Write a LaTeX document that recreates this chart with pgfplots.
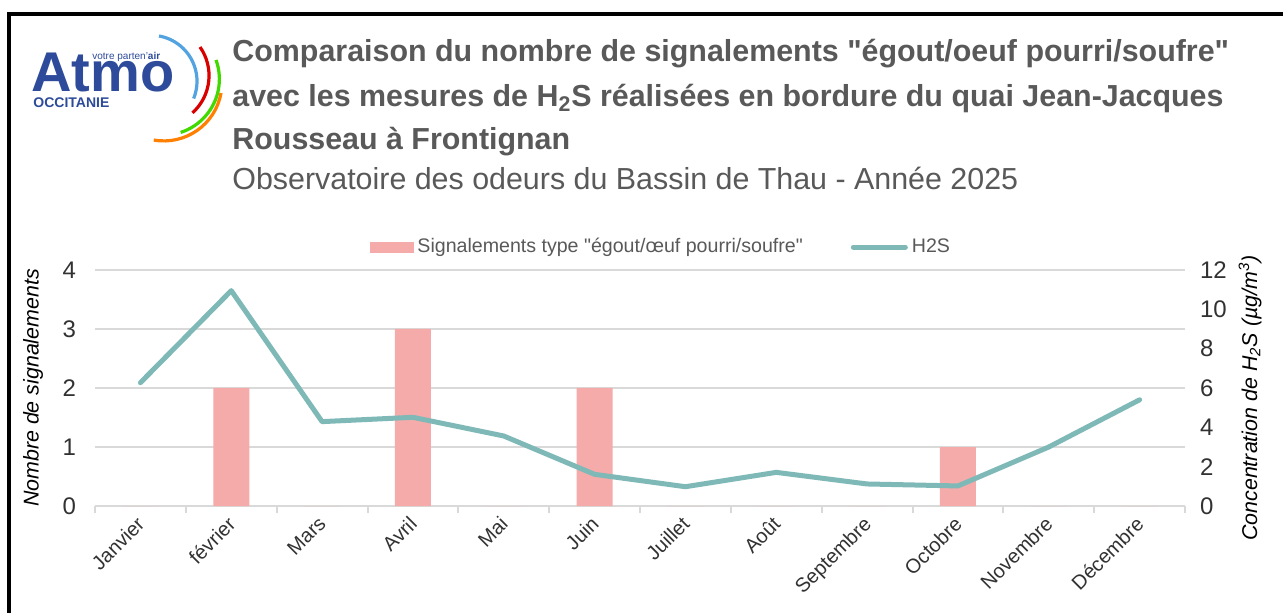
\documentclass[border=0pt]{standalone}
\usepackage{fontspec}
\setmainfont{Liberation Sans}
\usepackage{pgfplots}
\pgfplotsset{compat=1.18}

\definecolor{pinkbar}{RGB}{244,171,170}
\definecolor{tealline}{RGB}{127,185,183}
\definecolor{gridgray}{RGB}{217,217,217}
\definecolor{titlegray}{RGB}{89,89,89}
\definecolor{ticktext}{RGB}{50,50,50}
\definecolor{atmoblue}{RGB}{46,75,155}

\begin{document}
\begin{tikzpicture}[x=0.5pt,y=0.5pt]
\useasboundingbox (0,0) rectangle (1283,-613);
\fill[white] (0,0) rectangle (1283,-613);
% frame
\draw[line width=1.75pt] (9,-613) -- (9,-14) -- (1283,-14);

% logo
\node[anchor=base west, inner sep=0pt, text=atmoblue, font=\fontsize{28}{28}\selectfont\bfseries] at (31,-92) {Atmo};
\node[anchor=base west, inner sep=0pt, text=atmoblue, font=\fontsize{7}{7}\selectfont\bfseries] at (33,-108) {OCCITANIE};
\node[anchor=base west, inner sep=0pt, text=atmoblue, font=\fontsize{5}{5}\selectfont] at (92,-60) {votre parten'\textbf{air}};
\draw[cyan!70!blue!70, line width=1.6pt] (159,-36) arc[start angle=80, end angle=-22, radius=46];
\draw[red!85!black, line width=1.6pt] (200,-47) arc[start angle=35, end angle=-48, radius=50];
\draw[green!70!yellow!85!black, line width=1.6pt] (216,-60) arc[start angle=20, end angle=-72, radius=56];
\draw[orange, line width=1.6pt] (221,-93) arc[start angle=-10, end angle=-100, radius=58];

% titles
\node[anchor=base west, inner sep=0pt, text=titlegray, font=\fontsize{15.2}{15.2}\selectfont\bfseries] at (232,-62) {Comparaison du nombre de signalements \textquotedbl égout/oeuf pourri/soufre\textquotedbl};
\node[anchor=base west, inner sep=0pt, text=titlegray, font=\fontsize{15.2}{15.2}\selectfont\bfseries] at (232,-107) {avec les mesures de H\textsubscript{2}S réalisées en bordure du quai Jean-Jacques};
\node[anchor=base west, inner sep=0pt, text=titlegray, font=\fontsize{15.2}{15.2}\selectfont\bfseries] at (232,-150) {Rousseau à Frontignan};
\node[anchor=base west, inner sep=0pt, text=titlegray, font=\fontsize{15.2}{15.2}\selectfont] at (232,-190) {Observatoire des odeurs du Bassin de Thau - Année 2025};

% bars (left axis)
\begin{axis}[
    at={(47.5pt,-253pt)}, anchor=south west,
    scale only axis, width=545pt, height=118pt,
    xmin=-0.5, xmax=11.5, ymin=0, ymax=4,
    axis x line*=bottom, axis y line*=left,
    y axis line style={draw=none},
    x axis line style={draw=gridgray, line width=1pt},
    ytick={0,1,2,3,4},
    ymajorgrids, major grid style={draw=gridgray, line width=1pt},
    xtick={0,...,11},
    xticklabels={Janvier,février,Mars,Avril,Mai,Juin,Juillet,Août,Septembre,Octobre,Novembre,Décembre},
    minor xtick={-0.5,0.5,...,11.5},
    major tick length=0pt, minor tick length=3.5pt,
    tick align=outside,
    tick style={draw=gridgray, line width=1pt},
    xticklabel style={rotate=45, anchor=north east, font=\fontsize{10}{10}\selectfont, text=ticktext, inner sep=1pt, xshift=-3.9pt, yshift=-0.4pt},
    yticklabel style={font=\fontsize{12}{12}\selectfont, text=ticktext, xshift=-6pt},
    /pgf/number format/assume math mode=true,
    ybar, bar width=18pt,
]
\addplot[fill=pinkbar, draw=none] coordinates {
    (0,0) (1,2) (2,0) (3,3) (4,0) (5,2) (6,0) (7,0) (8,0) (9,1) (10,0) (11,0)
};
\end{axis}

% H2S line (right axis)
\begin{axis}[
    at={(47.5pt,-253pt)}, anchor=south west,
    scale only axis, width=545pt, height=118pt,
    xmin=-0.5, xmax=11.5, ymin=0, ymax=12,
    axis x line=none, axis y line*=right,
    y axis line style={draw=none},
    ytick={0,2,...,12},
    major tick length=0pt,
    yticklabel style={font=\fontsize{12}{12}\selectfont, text=ticktext, xshift=4pt},
    /pgf/number format/assume math mode=true,
    legend columns=2,
    legend style={draw=none, fill=none, at={(axis description cs:0.52,1.097)}, anchor=center,
        font=\fontsize{9.8}{10}\selectfont, text=titlegray,
        /tikz/every even column/.append style={column sep=22pt}},
]
\addlegendimage{legend image code/.code={\fill[pinkbar] (-4pt,-2.5pt) rectangle (17.5pt,2.5pt);}}
\addlegendentry{Signalements type \textquotedbl égout/\oe uf pourri/soufre\textquotedbl}
\addlegendimage{legend image code/.code={\draw[tealline, line width=2.5pt, line cap=round] (-9pt,0pt) -- (17pt,0pt);}}
\addlegendentry{H2S}
\addplot[tealline, line width=2.5pt, line join=round, line cap=round, mark=none] coordinates {
    (0,6.27) (1,10.95) (2,4.29) (3,4.51) (4,3.56) (5,1.61)
    (6,0.98) (7,1.71) (8,1.12) (9,1.02) (10,3.0) (11,5.4)
};
\end{axis}

% axis labels
\node[rotate=90, font=\fontsize{10.7}{10.7}\selectfont\itshape, text=black] at (33,-388) {Nombre de signalements};
\node[rotate=90, font=\fontsize{10.7}{10.7}\selectfont\itshape, text=black] at (1250,-398) {Concentration de H\textsubscript{2}S (µg/m\textsuperscript{3})};
\end{tikzpicture}
\end{document}
